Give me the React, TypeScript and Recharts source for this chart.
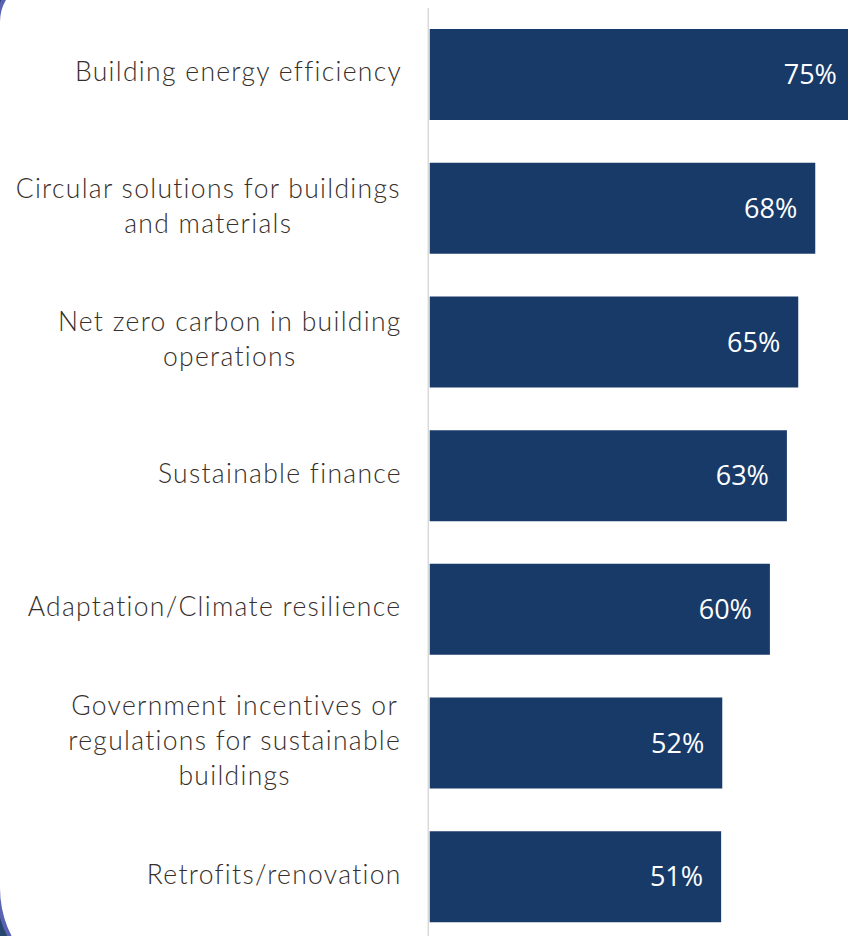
import React from "react";
import { BarChart, Bar, XAxis, YAxis, LabelList } from "recharts";

const categories: string[] = [
  "Building energy efficiency",
  "Circular solutions for buildings\nand materials",
  "Net zero carbon in building\noperations",
  "Sustainable finance",
  "Adaptation/Climate resilience",
  "Government incentives or\nregulations for sustainable\nbuildings",
  "Retrofits/renovation",
];
const shares: number[] = [75, 68, 65, 63, 60, 51.6, 51.4];

const data = categories.map((name, i) => ({ name, value: shares[i] }));

const LABEL_FAMILY = "Lato";
const LABEL_WEIGHT = 300;
const LABEL_SIZE = 26.5;
const LETTER_SPACING = 1.3;
const LABEL_FONT = `${LABEL_WEIGHT} ${LABEL_SIZE}px ${LABEL_FAMILY}`;

let ctx: CanvasRenderingContext2D | null = null;
function measure(t: string): number {
  if (!ctx) {
    const c = document.createElement("canvas");
    ctx = c.getContext("2d");
  }
  if (!ctx) return t.length * 12;
  ctx.font = LABEL_FONT;
  return ctx.measureText(t).width + t.length * LETTER_SPACING;
}

const CategoryTick = (props: any) => {
  const { x, y, payload } = props;
  const lines: string[] = String(payload.value).split("\n");
  const widths = lines.map(measure);
  const blockW = Math.max(...widths);
  const right = x - 20 + LETTER_SPACING;
  const n = lines.length;
  return (
    <g>
      {lines.map((ln, i) => (
        <text
          key={i}
          x={right - blockW / 2}
          y={y + 6.5 + (i - (n - 1) / 2) * 35}
          textAnchor="middle"
          fill="#362f2c"
          style={{
            fontFamily: LABEL_FAMILY,
            fontWeight: LABEL_WEIGHT,
            fontSize: LABEL_SIZE,
            letterSpacing: LETTER_SPACING,
          }}
        >
          {ln}
        </text>
      ))}
    </g>
  );
};

export default function App() {
  return (
    <>
      <div style={{ position: "fixed", inset: 0, background: "#27466e" }} />
      <div
        style={{
          position: "fixed",
          left: -4,
          top: -25,
          width: 1000,
          height: 1023,
          boxSizing: "border-box",
          border: "4px solid #5a62b2",
          borderTopLeftRadius: 47,
          borderBottomLeftRadius: 110,
          background: "#ffffff",
        }}
      />
      <div
        style={{
          position: "fixed",
          left: 8,
          top: 8,
          width: 840,
          height: 928,
          overflow: "hidden",
        }}
      >
        <BarChart
          width={880}
          height={936}
          data={data}
          layout="vertical"
          margin={{ top: 0, right: 0, bottom: 0, left: 0 }}
        >
          <XAxis type="number" hide domain={[-0.25, 80.83]} />
          <YAxis
            type="category"
            dataKey="name"
            width={420.3}
            axisLine={{ stroke: "#d9d9d9", strokeWidth: 1.5 }}
            tickLine={false}
            tick={<CategoryTick />}
            interval={0}
          />
          <Bar dataKey="value" fill="#183a69" barSize={91} isAnimationActive={false}>
            <LabelList
              dataKey="value"
              position="insideRight"
              offset={18}
              formatter={(v: any) => `${Math.round(Number(v))}%`}
              style={{ fill: "#ffffff", fontFamily: "'Open Sans'", fontSize: 27 }}
            />
          </Bar>
        </BarChart>
      </div>
    </>
  );
}
